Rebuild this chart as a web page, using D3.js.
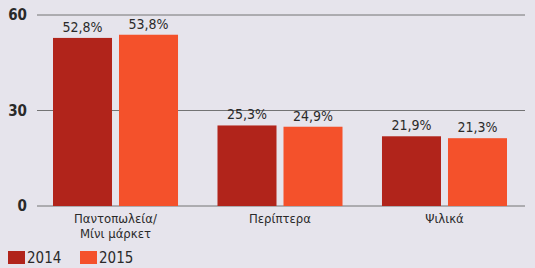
<!DOCTYPE html>
<html>
<head>
<meta charset="utf-8">
<script src="https://cdn.jsdelivr.net/npm/d3@7"></script>
<style>
body{margin:0;background:#e6e4ec;}
svg text{font-family:"Liberation Sans Narrow","DejaVu Sans Condensed",sans-serif;fill:#2a2a2a;}
</style>
</head>
<body>
<svg id="chart" width="535" height="268"></svg>
<script>
// data
var categories = ["Παντοπωλεία/\nΜίνι μάρκετ", "Περίπτερα", "Ψιλικά"];
var years = ["2014", "2015"];
var v2014 = [52.8, 25.3, 21.9];
var v2015 = [53.8, 24.9, 21.3];
var yTicks = [0, 30, 60];
var colors = ["#b1241b", "#f4512b"];

var svg = d3.select("#chart");
var margin = {top: 15, left: 37, right: 10, bottom: 62};
var width = 535 - margin.left - margin.right,
    height = 268 - margin.top - margin.bottom;

var g = svg.append("g").attr("transform", "translate(" + margin.left + "," + margin.top + ")");

var x0 = d3.scaleBand().domain(d3.range(categories.length)).range([16, 470]).paddingInner(0.24).paddingOuter(0);
var x1 = d3.scaleBand().domain(years).range([0, x0.bandwidth()]).paddingInner(0.106);
var y = d3.scaleLinear().domain([0, 60]).range([height, 0]);

// gridlines
g.selectAll("line.grid")
    .data(yTicks)
    .enter()
    .append("line")
    .attr("class", "grid")
    .attr("x1", 0)
    .attr("x2", 488)
    .attr("y1", function(d){return y(d);})
    .attr("y2", function(d){return y(d);})
    .attr("stroke", "#555")
    .attr("stroke-width", 0.8);

g.selectAll("text.ytick")
    .data(yTicks)
    .enter()
    .append("text")
    .attr("class", "ytick")
    .attr("x", -10)
    .attr("y", function(d){return y(d);})
    .attr("dy", "0.35em")
    .attr("text-anchor", "end")
    .style("font-size", "15px")
    .style("font-weight", "bold")
    .text(function(d){return d;});

var rows = [];
categories.forEach(function(c, i){
    rows.push({cat: i, year: "2014", v: v2014[i]});
    rows.push({cat: i, year: "2015", v: v2015[i]});
});

g.selectAll("rect.bar")
    .data(rows)
    .enter()
    .append("rect")
    .attr("class", "bar")
    .attr("x", function(d){return x0(d.cat) + x1(d.year);})
    .attr("y", function(d){return y(d.v);})
    .attr("width", x1.bandwidth())
    .attr("height", function(d){return y(0) - y(d.v);})
    .attr("fill", function(d){return d.year === "2014" ? colors[0] : colors[1];});

g.selectAll("text.val")
    .data(rows)
    .enter()
    .append("text")
    .attr("class", "val")
    .attr("x", function(d){return x0(d.cat) + x1(d.year) + x1.bandwidth() / 2;})
    .attr("y", function(d){return y(d.v) - 6;})
    .attr("text-anchor", "middle")
    .style("font-size", "14px")
    .text(function(d){return d.v.toFixed(1).replace(".", ",") + "%";});

// category labels
var cl = g.selectAll("text.cat")
    .data(categories)
    .enter()
    .append("text")
    .attr("class", "cat")
    .attr("x", function(d, i){return x0(i) + x0.bandwidth() / 2;})
    .attr("y", height + 17)
    .attr("text-anchor", "middle")
    .style("font-size", "13px");
cl.selectAll("tspan")
    .data(function(d){return d.split("\n");})
    .enter()
    .append("tspan")
    .attr("x", function(){return d3.select(this.parentNode).attr("x");})
    .attr("dy", function(d, i){return i ? 15 : 0;})
    .text(function(d){return d;});

// legend
var lg = svg.append("g").attr("transform", "translate(8,251)");
var li = lg.selectAll("g")
    .data(years)
    .enter()
    .append("g")
    .attr("transform", function(d, i){return "translate(" + (i * 72) + ",0)";});
li.append("rect")
    .attr("width", 17)
    .attr("height", 13)
    .attr("fill", function(d, i){return colors[i];});
li.append("text")
    .attr("x", 19)
    .attr("y", 12)
    .style("font-size", "15px")
    .text(function(d){return d;});
</script>
</body>
</html>
